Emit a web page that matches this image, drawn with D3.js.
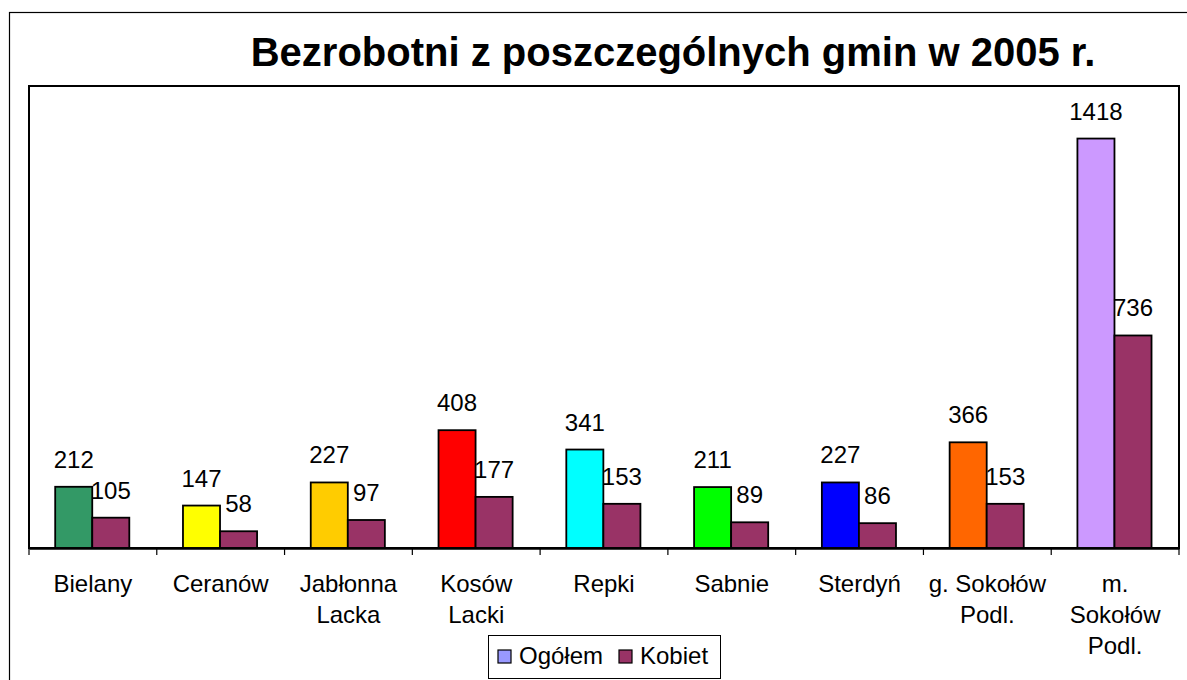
<!DOCTYPE html>
<html>
<head>
<meta charset="utf-8">
<script src="https://cdn.jsdelivr.net/npm/d3@7"></script>
<style>
  body { margin: 0; background: #fff; }
  svg text { font-family: Arial, "Liberation Sans", sans-serif; fill: #000; }
</style>
</head>
<body>
<svg id="chart"></svg>
<script>
// data
var categories = ["Bielany", "Ceranów", "Jabłonna\nLacka", "Kosów\nLacki", "Repki", "Sabnie", "Sterdyń", "g. Sokołów\nPodl.", "m.\nSokołów\nPodl."];
var series = ["Ogółem", "Kobiet"];
var ogolem = [212, 147, 227, 408, 341, 211, 227, 366, 1418];
var kobiet = [105, 58, 97, 177, 153, 89, 86, 153, 736];
var barColors = ["#339966", "#FFFF00", "#FFCC00", "#FF0000", "#00FFFF", "#00FF00", "#0000FF", "#FF6600", "#CC99FF"];
var seriesColors = ["#9999FF", "#993366"];

var width = 1187, height = 680;
var plot = { left: 29, top: 86, right: 1179, bottom: 548 };
var fontSize = "24px";

var svg = d3.select("#chart")
    .attr("width", width)
    .attr("height", height);

// outer chart frame (runs off the right and bottom edges)
svg.append("rect")
    .attr("x", 9.5).attr("y", 12.5)
    .attr("width", 1200).attr("height", 700)
    .attr("fill", "#fff")
    .attr("stroke", "#000")
    .attr("stroke-width", 1.2);

svg.append("text")
    .attr("x", 673)
    .attr("y", 66)
    .attr("text-anchor", "middle")
    .style("font-size", "40px")
    .style("font-weight", "bold")
    .text("Bezrobotni z poszczególnych gmin w 2005 r.");

// plot area frame
svg.append("rect")
    .attr("x", plot.left).attr("y", plot.top)
    .attr("width", plot.right - plot.left)
    .attr("height", plot.bottom - plot.top)
    .attr("fill", "#fff")
    .attr("stroke", "#000")
    .attr("stroke-width", 2);

var x0 = d3.scaleBand()
    .domain(d3.range(categories.length))
    .range([plot.left, plot.right]);

var bw = x0.bandwidth();
var x1 = d3.scaleBand()
    .domain(series)
    .range([bw * 0.205, bw * 0.785]);

var y = d3.scaleLinear()
    .domain([0, 1600])
    .range([plot.bottom, plot.top]);

var rows = categories.map(function(c, i) {
    return { i: i, name: c, values: [ogolem[i], kobiet[i]] };
});

var groups = svg.append("g").selectAll("g")
    .data(rows)
    .enter()
    .append("g")
    .attr("transform", d => `translate(${x0(d.i)},0)`);

groups.selectAll("rect")
    .data(d => d.values.map((v, k) => ({ key: series[k], value: v, color: k === 0 ? barColors[d.i] : seriesColors[1] })))
    .enter()
    .append("rect")
    .attr("x", d => x1(d.key))
    .attr("y", d => y(d.value))
    .attr("width", x1.bandwidth())
    .attr("height", d => y(0) - y(d.value))
    .attr("fill", d => d.color)
    .attr("stroke", "#000")
    .attr("stroke-width", 1.8);

// value labels
groups.selectAll("text.val")
    .data(d => d.values.map((v, k) => ({ key: series[k], value: v })))
    .enter()
    .append("text")
    .attr("class", "val")
    .attr("x", d => x1(d.key) + x1.bandwidth() / 2)
    .attr("y", d => y(d.value) - 19)
    .attr("text-anchor", "middle")
    .style("font-size", fontSize)
    .text(d => d.value);

// x axis with ticks between categories
var xAxis = d3.axisBottom(x0).tickSize(0).tickFormat("");
svg.append("g")
    .attr("transform", `translate(0,${plot.bottom})`)
    .call(xAxis)
    .call(g => g.select(".domain").attr("stroke-width", 2.5));

svg.append("g").selectAll("line")
    .data(d3.range(categories.length + 1))
    .enter()
    .append("line")
    .attr("x1", d => d < categories.length ? x0(d) : plot.right)
    .attr("x2", d => d < categories.length ? x0(d) : plot.right)
    .attr("y1", plot.bottom)
    .attr("y2", plot.bottom + 7)
    .attr("stroke", "#000")
    .attr("stroke-width", 1.2);

// category labels, split on line breaks
var catText = svg.append("g").selectAll("text")
    .data(rows)
    .enter()
    .append("text")
    .attr("x", d => x0(d.i) + bw / 2)
    .attr("y", 592)
    .attr("text-anchor", "middle")
    .style("font-size", fontSize);

catText.selectAll("tspan")
    .data(d => d.name.split("\n").map(s => ({ s: s, x: x0(d.i) + bw / 2 })))
    .enter()
    .append("tspan")
    .attr("x", d => d.x)
    .attr("dy", (d, k) => k === 0 ? 0 : 31)
    .text(d => d.s);

// legend
var legend = svg.append("g");
legend.append("rect")
    .attr("x", 488.5).attr("y", 635.5)
    .attr("width", 232).attr("height", 43)
    .attr("fill", "#fff")
    .attr("stroke", "#000")
    .attr("stroke-width", 1);

var legendX = [498, 619];
series.forEach(function(s, k) {
    legend.append("rect")
        .attr("x", legendX[k]).attr("y", 650)
        .attr("width", 13).attr("height", 13)
        .attr("fill", seriesColors[k])
        .attr("stroke", "#000")
        .attr("stroke-width", 1.2);
    legend.append("text")
        .attr("x", legendX[k] + 21)
        .attr("y", 664)
        .style("font-size", fontSize)
        .text(s);
});
</script>
</body>
</html>
